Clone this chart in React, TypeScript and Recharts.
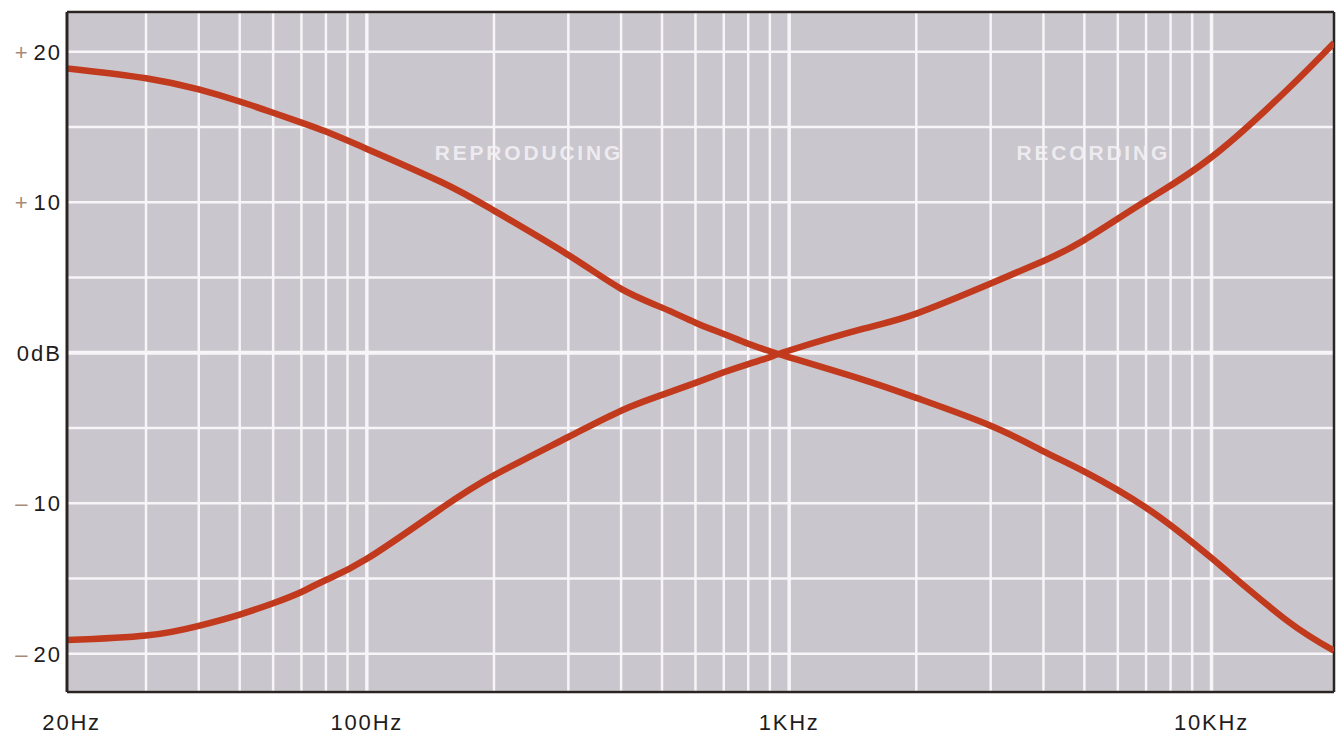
import {
  CartesianGrid,
  Line,
  LineChart,
  ReferenceDot,
  ReferenceLine,
  XAxis,
  YAxis,
} from "recharts";

// frequency (Hz) and equalisation level (dB) for the two curves
const freqs = [
  19.5, 30, 40, 50, 60, 70, 80, 100, 150, 200, 300, 400, 500, 600, 700, 800,
  900, 1000, 1500, 2000, 3000, 4000, 5000, 7000, 10000, 15000, 19500,
];
const reproducing = [
  18.9, 18.25, 17.5, 16.7, 15.95, 15.3, 14.7, 13.55, 11.35, 9.45, 6.5, 4.25,
  3.0, 2.0, 1.25, 0.6, 0.1, -0.3, -1.8, -3.0, -4.85, -6.55, -7.9, -10.3,
  -13.65, -17.75, -19.8,
];
const recording = [
  -19.1, -18.8, -18.15, -17.4, -16.65, -15.9, -15.1, -13.7, -10.35, -8.15,
  -5.6, -3.85, -2.8, -2.0, -1.3, -0.75, -0.3, 0.15, 1.6, 2.6, 4.6, 6.1, 7.5,
  10.1, 13.0, 17.4, 20.6,
];

const freqTicks = [20, 100, 1000, 10000];
const freqTickLabels = ["20Hz", "100Hz", "1KHz", "10KHz"];
const gridFreqs = [
  30, 40, 50, 60, 70, 80, 90, 100, 200, 300, 400, 500, 600, 700, 800, 900,
  1000, 2000, 3000, 4000, 5000, 6000, 7000, 8000, 9000, 10000,
];
const decades = [100, 1000, 10000];
const dbTicks = [-20, -15, -10, -5, 0, 5, 10, 15, 20];
const dbTickLabels: Record<number, [string, string]> = {
  20: ["+", "20"],
  10: ["+", "10"],
  0: ["", "0dB"],
  [-10]: ["–", "10"],
  [-20]: ["–", "20"],
};

const X_DOMAIN: [number, number] = [19.5, 19500];
const Y_DOMAIN: [number, number] = [-22.55, 22.65];

const data = freqs.map((f, i) => ({
  f,
  reproducing: reproducing[i],
  recording: recording[i],
}));

const FONT = "'Liberation Sans', Arial, Helvetica, sans-serif";
const CURVE = "#c13a1d";
const GRID = "#f7f5f7";
const BORDER = "#2a2422";

function FreqTick(props: any) {
  const { x, y, payload } = props;
  const idx = freqTicks.indexOf(payload.value);
  return (
    <text
      x={x}
      y={y + 38}
      textAnchor="middle"
      fontFamily={FONT}
      fontSize={22}
      letterSpacing={1.8}
      fill="#1e1c1c"
    >
      {freqTickLabels[idx]}
    </text>
  );
}

function DbTick(props: any) {
  const { x, y, payload } = props;
  const lbl = dbTickLabels[payload.value];
  if (!lbl) return null;
  const [sign, num] = lbl;
  return (
    <text
      x={x - 5}
      y={y}
      dy="0.36em"
      textAnchor="end"
      fontFamily={FONT}
      fontSize={22}
      letterSpacing={2}
      fill="#1e1c1c"
    >
      {sign && (
        <tspan fill="#a98a78" fontWeight={300}>
          {sign}
        </tspan>
      )}
      <tspan dx={sign ? 4 : 0}>{num}</tspan>
    </text>
  );
}

const curveLabel = {
  position: "center" as const,
  fill: "#f4f2f6",
  fontSize: 21,
  fontWeight: 700,
  fontFamily: FONT,
  letterSpacing: 2.8,
  opacity: 0.85,
};

export default function App() {
  return (
    <div
      style={{
        position: "absolute",
        left: 0,
        top: 0,
        width: 1342,
        height: 735,
        background: "#ffffff",
      }}
    >
      <LineChart
        width={1342}
        height={735}
        data={data}
        margin={{ top: 12, right: 8, bottom: 0, left: 0 }}
      >
        <CartesianGrid
          vertical={false}
          stroke={GRID}
          strokeWidth={2.5}
          fill="#cac6cd"
          fillOpacity={1}
        />
        <XAxis
          dataKey="f"
          type="number"
          scale="log"
          domain={X_DOMAIN}
          allowDataOverflow
          ticks={freqTicks}
          tick={<FreqTick />}
          tickLine={false}
          tickSize={0}
          tickMargin={0}
          height={43}
          axisLine={{ stroke: BORDER, strokeWidth: 2.5 }}
        />
        <YAxis
          type="number"
          domain={Y_DOMAIN}
          allowDataOverflow
          ticks={dbTicks}
          tick={<DbTick />}
          tickLine={false}
          tickSize={0}
          tickMargin={0}
          width={67}
          axisLine={{ stroke: BORDER, strokeWidth: 3 }}
        />
        {gridFreqs.map((f) => (
          <ReferenceLine
            key={f}
            x={f}
            stroke={GRID}
            strokeWidth={decades.includes(f) ? 3.5 : 2.5}
          />
        ))}
        <ReferenceLine y={0} stroke={GRID} strokeWidth={4} />
        <ReferenceLine y={Y_DOMAIN[1]} stroke={BORDER} strokeWidth={2.5} />
        <ReferenceLine x={X_DOMAIN[1]} stroke={BORDER} strokeWidth={2.5} />
        <ReferenceDot
          x={242}
          y={13.3}
          r={0}
          label={{ value: "REPRODUCING", ...curveLabel }}
        />
        <ReferenceDot
          x={5250}
          y={13.3}
          r={0}
          label={{ value: "RECORDING", ...curveLabel }}
        />
        <Line
          dataKey="reproducing"
          type="natural"
          stroke={CURVE}
          strokeWidth={6.5}
          dot={false}
          isAnimationActive={false}
        />
        <Line
          dataKey="recording"
          type="natural"
          stroke={CURVE}
          strokeWidth={6.5}
          dot={false}
          isAnimationActive={false}
        />
      </LineChart>
    </div>
  );
}
